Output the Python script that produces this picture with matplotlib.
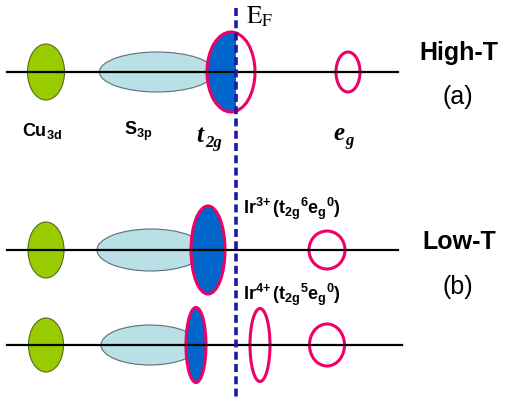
import matplotlib
matplotlib.use('Agg')
import matplotlib.pyplot as plt
from matplotlib.patches import Ellipse, Rectangle

plt.rcParams['mathtext.fontset'] = 'custom'
plt.rcParams['mathtext.rm'] = 'Liberation Sans:bold'
plt.rcParams['mathtext.bf'] = 'Liberation Sans:bold'
plt.rcParams['mathtext.it'] = 'Liberation Sans:bold'

# baseline (y) of each energy-level row, in pixels
rows_y = [72, 250, 345]
# fermi level position
ef_x = 236

# (x center, width, height) for each band in each row
cu3d = [(46, 37, 56), (46, 36, 56), (46, 35, 54)]
s3p = [(157, 115, 40), (151, 108, 42), (150, 98, 40)]
t2g = [(231, 48, 80), (208, 34, 88), (196, 20, 75)]
eg = [(348, 24, 40), (327, 36, 38), (327, 35, 42)]
ir4_extra = (260, 20, 73)  # split-off empty t2g level, row 3

GREEN = '#99cc00'
LBLUE = '#b9e0e6'
BLUE = '#0066cc'
PINK = '#ee0066'
DBLUE = '#1a1aa6'

fig = plt.figure(figsize=(5.14, 3.97), dpi=100)
ax = fig.add_axes([0, 0, 1, 1])
ax.set_xlim(0, 514)
ax.set_ylim(397, 0)
ax.axis('off')

for i, y in enumerate(rows_y):
    x, w, h = cu3d[i]
    ax.add_patch(Ellipse((x, y), w, h, facecolor=GREEN, edgecolor='#556b1a', lw=0.8, zorder=2))
    x, w, h = s3p[i]
    ax.add_patch(Ellipse((x, y), w, h, facecolor=LBLUE, edgecolor='#5a7075', lw=0.8, zorder=2))
    x, w, h = t2g[i]
    if i == 0:
        # half filled: occupied below E_F only
        ax.add_patch(Ellipse((x, y), w, h, facecolor='white', edgecolor='none', zorder=3))
        fill = Ellipse((x, y), w, h, facecolor=BLUE, edgecolor='none', zorder=3)
        ax.add_patch(fill)
        clip = Rectangle((0, 0), ef_x, 397, transform=ax.transData)
        fill.set_clip_path(clip)
        ax.add_patch(Ellipse((x, y), w, h, facecolor='none', edgecolor=PINK, lw=2.2, zorder=4))
    else:
        ax.add_patch(Ellipse((x, y), w, h, facecolor=BLUE, edgecolor=PINK, lw=2.2, zorder=4))
    x, w, h = eg[i]
    ax.add_patch(Ellipse((x, y), w, h, facecolor='none', edgecolor=PINK, lw=2.2, zorder=4))

x, w, h = ir4_extra
ax.add_patch(Ellipse((x, rows_y[2]), w, h, facecolor='none', edgecolor=PINK, lw=2.2, zorder=4))

# horizontal axes of each row
ax.plot([7, 398], [rows_y[0], rows_y[0]], color='black', lw=1.6, zorder=5)
ax.plot([7, 398], [rows_y[1], rows_y[1]], color='black', lw=1.6, zorder=5)
ax.plot([7, 402], [rows_y[2], rows_y[2]], color='black', lw=1.6, zorder=5)

# Fermi level
ax.plot([ef_x, ef_x], [8, 397], color=DBLUE, lw=2.6, ls=(0, (2.2, 1.2)), zorder=6)
ax.text(246, 17, r'$\mathrm{E}_\mathrm{F}$', fontsize=18, math_fontfamily='stix',
        ha='left', va='center', color='black')

# band labels
ax.text(42, 131, r'Cu$_\mathrm{3d}$', fontsize=13, fontweight='bold', family='Liberation Sans',
        ha='center', va='center')
ax.text(138, 131, r'S$_\mathrm{3p}$', fontsize=13, fontweight='bold', family='Liberation Sans',
        ha='center', va='center')
ax.text(196, 142, 't', fontsize=18, fontweight='bold', fontstyle='italic', family='Liberation Serif')
ax.text(205, 147, '2g', fontsize=12, fontweight='bold', fontstyle='italic', family='Liberation Serif')
ax.text(333, 140, 'e', fontsize=18, fontweight='bold', fontstyle='italic', family='Liberation Serif')
ax.text(345, 145, 'g', fontsize=12, fontweight='bold', fontstyle='italic', family='Liberation Serif')

ax.text(243, 214, r'Ir$^\mathrm{3\!+}$(t$_\mathrm{2g}$$^\mathrm{6}$e$_\mathrm{g}$$^\mathrm{0}$)', fontsize=13,
        fontweight='bold', family='Liberation Sans', ha='left', va='baseline')
ax.text(243, 300, r'Ir$^\mathrm{4\!+}$(t$_\mathrm{2g}$$^\mathrm{5}$e$_\mathrm{g}$$^\mathrm{0}$)', fontsize=13,
        fontweight='bold', family='Liberation Sans', ha='left', va='baseline')

# phase labels
ax.text(459, 53, 'High-T', fontsize=18, fontweight='bold', family='Liberation Sans', ha='center', va='center')
ax.text(458, 97, '(a)', fontsize=18, family='Liberation Sans', ha='center', va='center')
ax.text(459, 242, 'Low-T', fontsize=18, fontweight='bold', family='Liberation Sans', ha='center', va='center')
ax.text(458, 287, '(b)', fontsize=18, family='Liberation Sans', ha='center', va='center')

fig.savefig('out.png', dpi=100)
